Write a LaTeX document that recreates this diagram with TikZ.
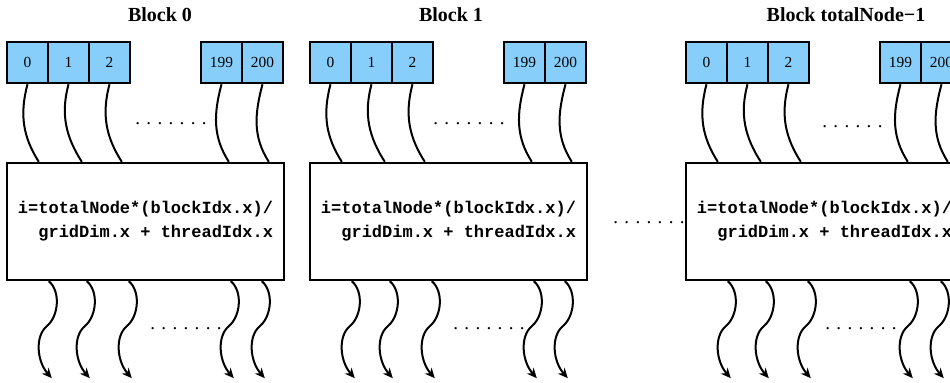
\documentclass[tikz,border=0pt]{standalone}
\usepackage{fontspec}
\setmainfont{Liberation Serif}
\newfontfamily\codefont{Liberation Mono}
\usepackage{tikz}
\usetikzlibrary{arrows.meta,positioning,calc}

\definecolor{cellblue}{RGB}{135,206,250}

\tikzset{
  cell/.style={draw, line width=1.3pt, fill=cellblue, minimum width=20.5pt,
    minimum height=20.5pt, inner sep=0pt, font=\fontsize{7.7}{9}\selectfont},
  kernelbox/.style={draw, line width=1.2pt, minimum width=138.5pt,
    minimum height=58.5pt, align=right,
    font=\codefont\bfseries\fontsize{8.5}{12}\selectfont},
  thread/.style={line width=1pt},
  blocktitle/.style={font=\bfseries\fontsize{10}{12}\selectfont},
  dots/.style={font=\fontsize{9.5}{11}\selectfont, inner sep=0pt,
    anchor=base west}
}

\begin{document}
\begin{tikzpicture}[x=0.5pt, y=-0.5pt]
  \useasboundingbox (0,0) rectangle (950,383);
  \foreach \b/\dx/\tx/\lbl in {0/7/160/0, 1/310/451/1, 2/686/846/totalNode−1} {
    \begin{scope}[shift={(\dx,0)}]
      \node[blocktitle] (title\b) at (\tx-\dx,15) {Block \lbl};
      \foreach \i/\cx in {0/20.5, 1/61.5, 2/102.5, 199/214.5, 200/255.5}
        \node[cell] (c\b-\i) at (\cx,62.5) {\i};
      \node[kernelbox] (k\b) at (138.5,221.5)
        {i=totalNode*(blockIdx.x)/\\gridDim.x + threadIdx.x};
      % threads into the kernel
      \foreach \i/\e in {0/33, 1/76, 2/116, 199/223, 200/263}
        \draw[thread] (c\b-\i.south) .. controls +(-8,30) and +(-16,-25)
          .. ($(k\b.north west)+(\e,0)$);
      % threads out of the kernel
      \foreach \s in {43, 81, 123, 225, 256}
        \draw[thread, -{Stealth[length=5pt, width=4.5pt]}]
          ($(k\b.south west)+(\s,0)$) .. controls +(12,10) and +(12,-10)
          .. ++(-2,45) .. controls +(-12,10) and +(-15,-17) .. ++(5,52);
    \end{scope}
  }
  \node[dots] (top0) at (135,124.5) {. . . . . . .};
  \node[dots] (top1) at (433,124.5) {. . . . . . .};
  \node[dots] (top2) at (822,127.5) {. . . . . .};
  \node[dots] (bot0) at (150,329.5) {. . . . . . .};
  \node[dots] (bot1) at (453,329.5) {. . . . . . .};
  \node[dots] (bot2) at (825,329.5) {. . . . . . .};
  \node[dots] (mid) at (613,223.5) {. . . . . . .};
\end{tikzpicture}
\end{document}
